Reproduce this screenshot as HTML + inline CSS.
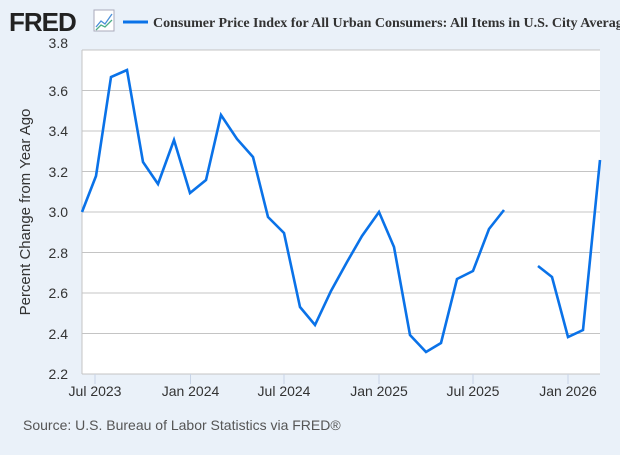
<!DOCTYPE html>
<html><head><style>
body{margin:0;width:620px;height:450px;background:#eaf1f9;overflow:hidden;font-family:"Liberation Sans",Arial,sans-serif}
</style></head><body>
<svg width="620" height="450" xmlns="http://www.w3.org/2000/svg">
<rect width="620" height="450" fill="#eaf1f9"/>
<text x="9" y="31" font-family="Liberation Sans,sans-serif" font-weight="bold" font-size="26" fill="#222" letter-spacing="-1">FRED</text>
<rect x="94" y="10" width="20" height="21" fill="#fff" stroke="#aab" stroke-width="1"/>
<polyline points="96,27 101,21 105,24 112,14" fill="none" stroke="#4a8fd8" stroke-width="1.3"/>
<polyline points="96,30 101,25 105,27 112,20" fill="none" stroke="#4cae86" stroke-width="1.3"/>
<line x1="123" y1="22" x2="148" y2="22" stroke="#0a72e8" stroke-width="3"/>
<text x="153" y="27" font-family="Liberation Serif,serif" font-weight="bold" font-size="14" fill="#333">Consumer Price Index for All Urban Consumers: All Items in U.S. City Average</text>
<rect x="82" y="50" width="518" height="324" fill="#fff"/>
<g stroke="#c4c4c4" stroke-width="1">
<line x1="82" y1="90.5" x2="600" y2="90.5"/><line x1="82" y1="131" x2="600" y2="131"/>
<line x1="82" y1="171.5" x2="600" y2="171.5"/><line x1="82" y1="212" x2="600" y2="212"/>
<line x1="82" y1="252.5" x2="600" y2="252.5"/><line x1="82" y1="293" x2="600" y2="293"/>
<line x1="82" y1="333.5" x2="600" y2="333.5"/>
<line x1="82" y1="50" x2="600" y2="50"/>
<line x1="82" y1="50" x2="82" y2="374"/>
<line x1="82" y1="374" x2="600" y2="374"/>
</g>
<g stroke="#c8d4e6" stroke-width="1">
<line x1="95" y1="374" x2="95" y2="384"/><line x1="190.5" y1="374" x2="190.5" y2="384"/>
<line x1="284" y1="374" x2="284" y2="384"/><line x1="379" y1="374" x2="379" y2="384"/>
<line x1="473" y1="374" x2="473" y2="384"/><line x1="568" y1="374" x2="568" y2="384"/>
</g>
<g font-size="14" fill="#333" text-anchor="end">
<text x="68" y="48">3.8</text><text x="68" y="96">3.6</text><text x="68" y="136">3.4</text>
<text x="68" y="177">3.2</text><text x="68" y="217">3.0</text><text x="68" y="258">2.8</text>
<text x="68" y="298">2.6</text><text x="68" y="339">2.4</text><text x="68" y="379">2.2</text>
</g>
<g font-size="14" fill="#333" text-anchor="middle">
<text x="95" y="396">Jul 2023</text><text x="190.5" y="396">Jan 2024</text><text x="284" y="396">Jul 2024</text>
<text x="379" y="396">Jan 2025</text><text x="473" y="396">Jul 2025</text><text x="568" y="396">Jan 2026</text>
</g>
<text transform="translate(30,212) rotate(-90)" font-size="15" fill="#333" text-anchor="middle">Percent Change from Year Ago</text>
<text x="23" y="430" font-size="14" fill="#555">Source: U.S. Bureau of Labor Statistics via FRED®</text>
<g fill="none" stroke="#0a72e8" stroke-width="2.6" stroke-linejoin="miter">
<polyline points="82,212 96,176 111,77 127,70 143,162 158,184 174,140 190,193 206,180 221,115 237,139 253,157 268,217 284,233 300,307 315,325 331,291 347,262 362,236 379,212 394,247 410,335 426,352 441,343 457,279 473,271 489,229 504,210"/>
<polyline points="538,266 552,277 568,337 583,330 600,160"/>
</g>
</svg>
</body></html>
